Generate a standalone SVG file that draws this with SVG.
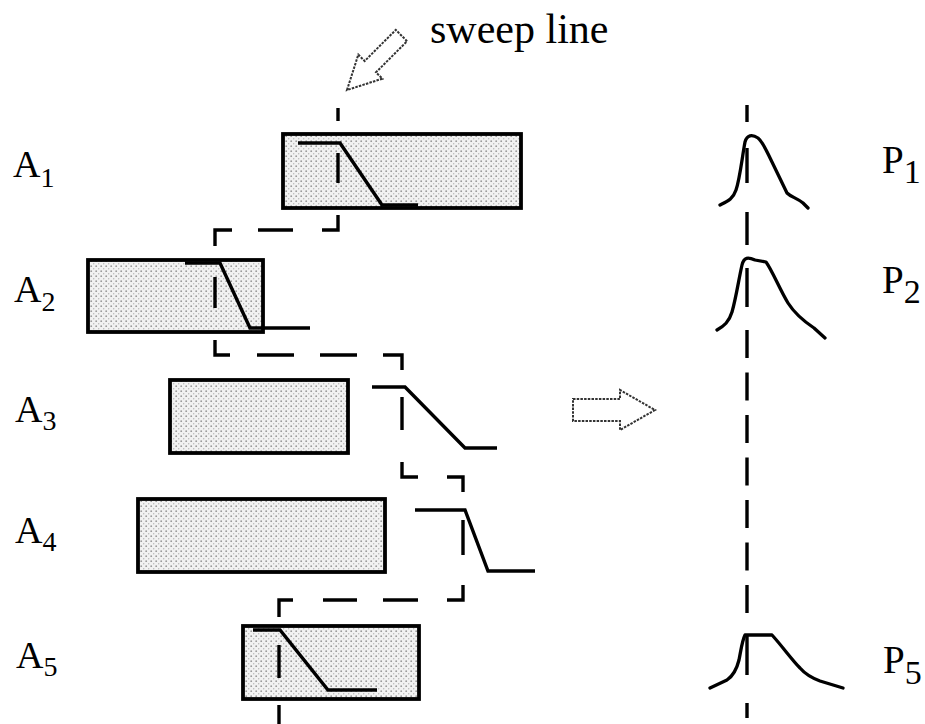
<svg xmlns="http://www.w3.org/2000/svg" width="925" height="724" viewBox="0 0 925 724">
<defs>
<pattern id="stip" width="5" height="5" patternUnits="userSpaceOnUse">
<rect width="5" height="5" fill="#f2f2f2"/>
<circle cx="1.2" cy="1.2" r="0.9" fill="#9a9a9a"/>
<circle cx="3.7" cy="3.7" r="0.7" fill="#b5b5b5"/>
</pattern>
<style>
.box{fill:url(#stip);stroke:#000;stroke-width:3.8}
.pulse{fill:none;stroke:#000;stroke-width:3.4;stroke-linejoin:miter}
.dash{fill:none;stroke:#000;stroke-width:3.4;stroke-linecap:butt}
.peak{fill:none;stroke:#000;stroke-width:3.3;stroke-linejoin:round;stroke-linecap:round}
.lbl{font-family:"Liberation Serif","Times New Roman",serif;fill:#000}
.hollow{fill:#fff;stroke:#333;stroke-width:2;stroke-dasharray:2.5 1.2}
</style>
</defs>
<rect width="925" height="724" fill="#fff"/>

<g id="sweep-label">
<text class="lbl" x="430" y="43" font-size="42">sweep line</text>
<polygon class="hollow" transform="translate(347,90) rotate(-45)" points="0,0 33,-17 33,-8 77,-8 77,8 33,8 33,17"/>
</g>

<g id="A1">
<rect class="box" x="283" y="134" width="238" height="74"/>
<polyline class="pulse" points="298,143 340,143 382,205 418,205"/>
<text class="lbl" x="13" y="177" font-size="38">A<tspan font-size="28" dx="0" dy="10">1</tspan></text>
</g>
<g id="A2">
<rect class="box" x="88" y="260" width="175" height="72"/>
<polyline class="pulse" points="185,263 220,263 250,328 310,328"/>
<text class="lbl" x="14" y="302" font-size="38">A<tspan font-size="28" dx="0" dy="9">2</tspan></text>
</g>
<g id="A3">
<rect class="box" x="170" y="380" width="178" height="73"/>
<polyline class="pulse" points="372,387 405,387 465,448 497,448"/>
<text class="lbl" x="15" y="422" font-size="38">A<tspan font-size="28" dx="0" dy="8">3</tspan></text>
</g>
<g id="A4">
<rect class="box" x="138" y="499" width="247" height="73"/>
<polyline class="pulse" points="415,510 465,510 488,571 535,571"/>
<text class="lbl" x="15" y="543" font-size="38">A<tspan font-size="28" dx="0" dy="8">4</tspan></text>
</g>
<g id="A5">
<rect class="box" x="243" y="626" width="176" height="73"/>
<polyline class="pulse" points="253,630 280,630 328,690 377,690"/>
<text class="lbl" x="16" y="668" font-size="38">A<tspan font-size="28" dx="0" dy="8">5</tspan></text>
</g>

<g id="shift-arrow">
<polygon class="hollow" points="573,399 620,399 620,390 655,410 620,430 620,421 573,421"/>
</g>

<g id="P1">
<path class="peak" d="M720,205 C728,201 733,199 736,190 C740,178 742,158 745,142 C747,135 752,134 758,138 C763,142 766,150 772,162 L787,193 C791,197 797,198 803,203 L808,208"/>
<text class="lbl" x="882" y="173" font-size="39">P<tspan font-size="34" dx="0" dy="10">1</tspan></text>
</g>
<g id="P2">
<path class="peak" d="M717,330 C724,326 729,322 732,312 C736,298 739,278 742,265 C744,257 748,257 755,260 L766,262 C772,270 780,290 788,303 C795,314 805,322 814,328 L825,338"/>
<text class="lbl" x="882" y="293" font-size="39">P<tspan font-size="34" dx="0" dy="10">2</tspan></text>
</g>
<g id="P5">
<path class="peak" d="M710,688 L727,680 C733,676 737,668 739,660 C741,650 742,641 745,635 L772,635 C782,646 792,660 800,668 C806,675 812,678 820,681 L843,688"/>
<text class="lbl" x="883" y="673" font-size="39">P<tspan font-size="34" dx="0" dy="11">5</tspan></text>
</g>

<g id="connectors">
<path class="dash" d="M338,108 V121 M338,153 V183 M338,215 V230 H322 M293,230 H258 M232,230 H215 V246 M215,277 V308 M215,340 V355 H230 M257,355 H294 M320,355 H357 M383,355 H402 V370 M402,397 V430 M402,462 V477 H418 M447,477 H463 V492 M463,520 V555 M463,585 V600 H447 M418,600 H383 M357,600 H323 M293,600 H279 V617 M279,645 V678 M279,705 V724"/>
<path class="dash" d="M747,105 V122 M747,148 V183 M747,212 V245 M747,268 V307"/>
<line class="dash" x1="747" y1="330" x2="747" y2="613" stroke-dasharray="28 14.5"/>
<path class="dash" d="M747,635 V675 M747,703 V718"/>
</g>
</svg>
